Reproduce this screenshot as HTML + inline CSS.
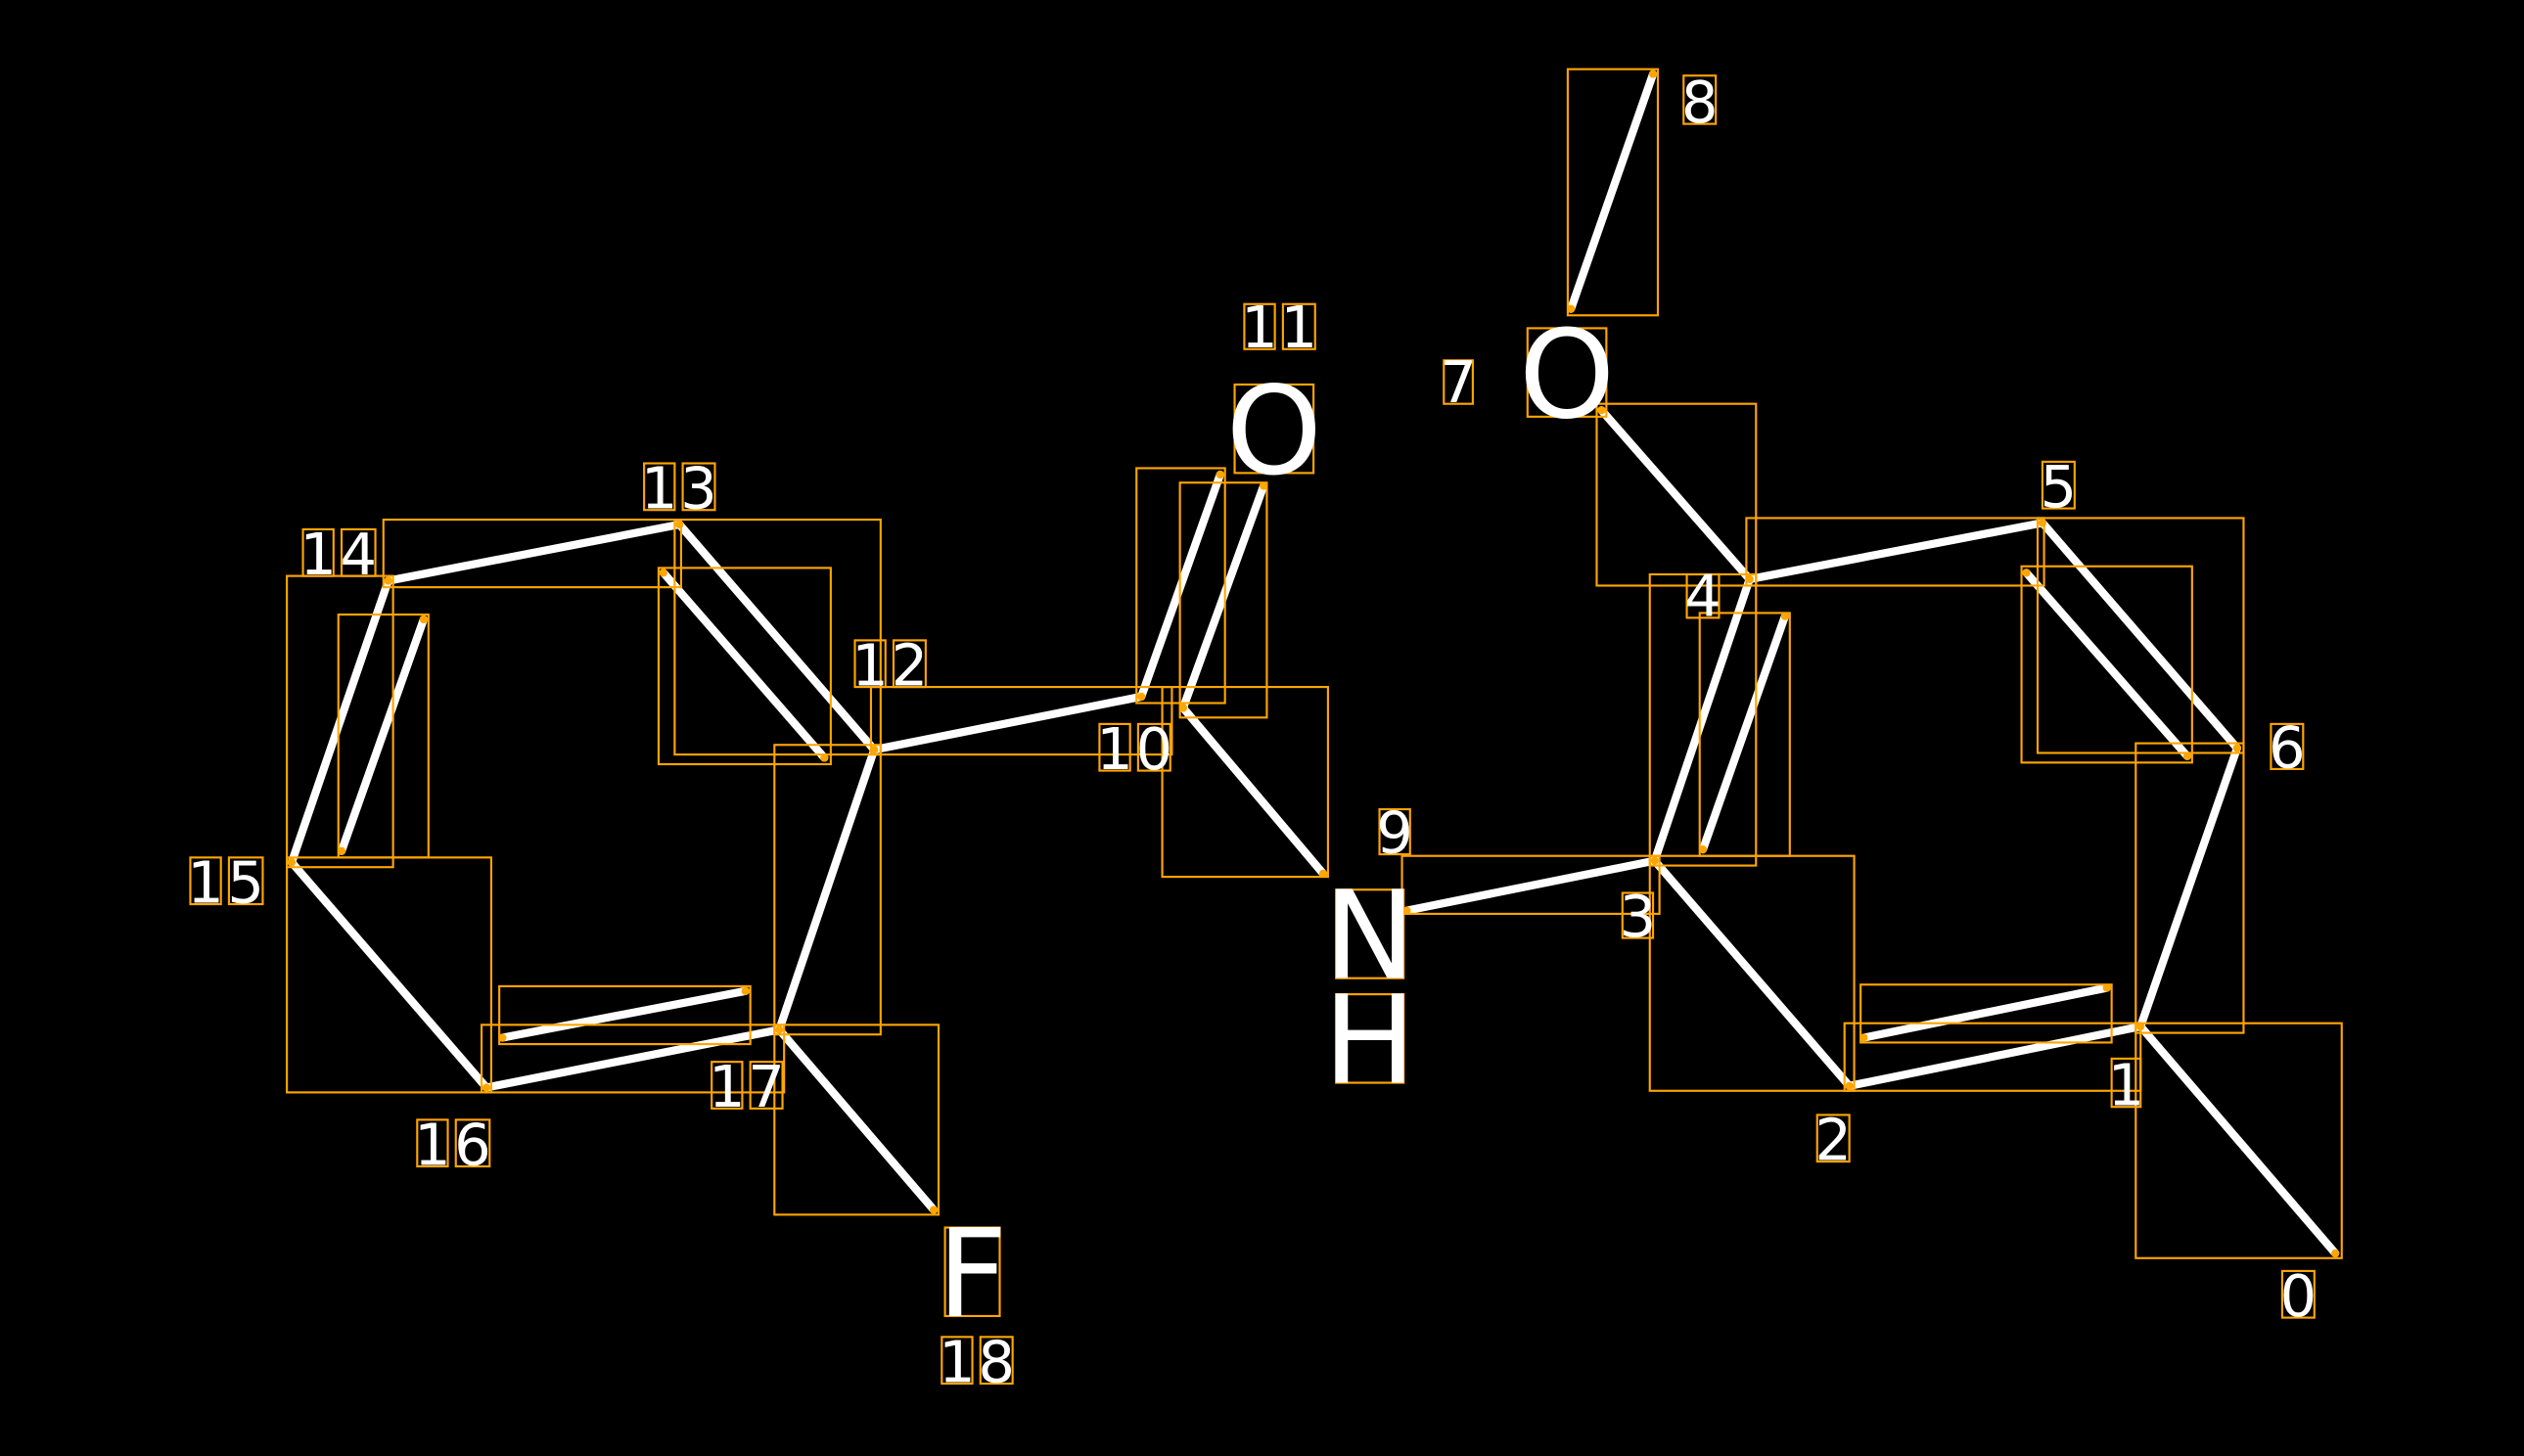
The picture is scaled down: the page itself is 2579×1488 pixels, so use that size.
<!DOCTYPE html>
<html><head><meta charset="utf-8"><style>
html,body{margin:0;padding:0;background:#000;}
svg{display:block;}
</style></head><body>
<svg width="2579" height="1488" viewBox="0 0 1568 905" xmlns="http://www.w3.org/2000/svg">
<rect width="1568" height="905" fill="#000"/>
<g stroke="#fff" stroke-width="5" stroke-linecap="round">
<line x1="976" y1="192" x2="1027" y2="46"/>
<line x1="995" y1="255" x2="1087" y2="360"/>
<line x1="1087" y1="360" x2="1269" y2="325"/>
<line x1="1269" y1="325" x2="1390" y2="465"/>
<line x1="1259" y1="356" x2="1359" y2="470"/>
<line x1="1390" y1="465" x2="1330" y2="638"/>
<line x1="1330" y1="638" x2="1451" y2="779"/>
<line x1="1330" y1="638" x2="1149" y2="675"/>
<line x1="1309" y1="614" x2="1158" y2="645"/>
<line x1="1149" y1="675" x2="1028" y2="535"/>
<line x1="1028" y1="535" x2="1087" y2="360"/>
<line x1="1058" y1="528" x2="1109" y2="383"/>
<line x1="1028" y1="535" x2="874" y2="566"/>
<line x1="735" y1="440" x2="822" y2="543"/>
<line x1="709" y1="433" x2="758" y2="295"/>
<line x1="735" y1="440" x2="785" y2="302"/>
<line x1="709" y1="433" x2="543" y2="466"/>
<line x1="543" y1="466" x2="422" y2="326"/>
<line x1="412" y1="356" x2="512" y2="471"/>
<line x1="422" y1="326" x2="241" y2="361"/>
<line x1="241" y1="361" x2="181" y2="536"/>
<line x1="212" y1="529" x2="263" y2="385"/>
<line x1="181" y1="536" x2="302" y2="676"/>
<line x1="302" y1="676" x2="484" y2="640"/>
<line x1="312" y1="645" x2="463" y2="616"/>
<line x1="484" y1="640" x2="543" y2="466"/>
<line x1="484" y1="640" x2="580" y2="752"/>
</g>
<g fill="none" stroke="#FFA500" stroke-width="1.3">
<rect x="974" y="43" width="56" height="153"/>
<rect x="992" y="251" width="99" height="113"/>
<rect x="1085" y="322" width="185" height="42"/>
<rect x="1266" y="322" width="128" height="146"/>
<rect x="1256" y="352" width="106" height="122"/>
<rect x="1327" y="462" width="67" height="180"/>
<rect x="1327" y="636" width="128" height="146"/>
<rect x="1146" y="636" width="184" height="42"/>
<rect x="1156" y="612" width="156" height="36"/>
<rect x="1025" y="532" width="127" height="146"/>
<rect x="1025" y="357" width="66" height="181"/>
<rect x="1056" y="381" width="56" height="151"/>
<rect x="871" y="532" width="160" height="36"/>
<rect x="722" y="427" width="103" height="118"/>
<rect x="706" y="291" width="55" height="146"/>
<rect x="733" y="300" width="54" height="146"/>
<rect x="541" y="427" width="187" height="42"/>
<rect x="419" y="323" width="128" height="146"/>
<rect x="409" y="353" width="107" height="122"/>
<rect x="238" y="323" width="185" height="42"/>
<rect x="178" y="358" width="66" height="181"/>
<rect x="210" y="382" width="56" height="151"/>
<rect x="178" y="533" width="127" height="146"/>
<rect x="299" y="637" width="188" height="42"/>
<rect x="310" y="613" width="156" height="36"/>
<rect x="481" y="463" width="66" height="180"/>
<rect x="481" y="637" width="102" height="118"/>
</g>
<g fill="#FFA500">
<circle cx="976" cy="192" r="2.5"/><circle cx="1027" cy="46" r="2.5"/>
<circle cx="995" cy="255" r="2.5"/><circle cx="1087" cy="360" r="2.5"/>
<circle cx="1269" cy="325" r="2.5"/><circle cx="1390" cy="465" r="2.5"/>
<circle cx="1259" cy="356" r="2.5"/><circle cx="1359" cy="470" r="2.5"/>
<circle cx="1330" cy="638" r="2.5"/><circle cx="1451" cy="779" r="2.5"/>
<circle cx="1149" cy="675" r="2.5"/><circle cx="1309" cy="614" r="2.5"/><circle cx="1158" cy="645" r="2.5"/>
<circle cx="1028" cy="535" r="2.5"/><circle cx="1058" cy="528" r="2.5"/><circle cx="1109" cy="383" r="2.5"/>
<circle cx="874" cy="566" r="2.5"/><circle cx="735" cy="440" r="2.5"/><circle cx="822" cy="543" r="2.5"/>
<circle cx="709" cy="433" r="2.5"/><circle cx="758" cy="295" r="2.5"/><circle cx="785" cy="302" r="2.5"/>
<circle cx="543" cy="466" r="2.5"/><circle cx="422" cy="326" r="2.5"/><circle cx="412" cy="356" r="2.5"/><circle cx="512" cy="471" r="2.5"/>
<circle cx="241" cy="361" r="2.5"/><circle cx="181" cy="536" r="2.5"/><circle cx="212" cy="529" r="2.5"/><circle cx="263" cy="385" r="2.5"/>
<circle cx="302" cy="676" r="2.5"/><circle cx="484" cy="640" r="2.5"/><circle cx="312" cy="645" r="2.5"/><circle cx="463" cy="616" r="2.5"/><circle cx="580" cy="752" r="2.5"/>
</g>
<g fill="none" stroke="#FFA500" stroke-width="1.3">
<rect x="767" y="239" width="49" height="55"/>
<rect x="949" y="204" width="49" height="55"/>
<rect x="830" y="553" width="42" height="55"/>
<rect x="830" y="618" width="42" height="55"/>
<rect x="587" y="763" width="34" height="55"/>
<rect x="1046" y="47" width="20" height="30"/>
<rect x="897" y="224" width="18" height="27"/>
<rect x="773" y="189" width="19" height="28"/><rect x="797" y="189" width="20" height="28"/>
<rect x="1269" y="287" width="20" height="29"/>
<rect x="1411" y="450" width="20" height="28"/>
<rect x="1048" y="357" width="20" height="27"/>
<rect x="1008" y="555" width="19" height="28"/>
<rect x="857" y="503" width="19" height="28"/>
<rect x="1129" y="693" width="20" height="29"/>
<rect x="1312" y="658" width="18" height="30"/>
<rect x="1418" y="790" width="20" height="29"/>
<rect x="683" y="450" width="19" height="29"/><rect x="707" y="450" width="20" height="29"/>
<rect x="531" y="398" width="19" height="29"/><rect x="555" y="398" width="20" height="29"/>
<rect x="400" y="288" width="19" height="29"/><rect x="424" y="288" width="20" height="29"/>
<rect x="188" y="329" width="19" height="29"/><rect x="212" y="329" width="21" height="29"/>
<rect x="118" y="533" width="19" height="29"/><rect x="142" y="533" width="21" height="29"/>
<rect x="259" y="696" width="19" height="29"/><rect x="283" y="696" width="21" height="29"/>
<rect x="442" y="660" width="19" height="29"/><rect x="466" y="660" width="20" height="29"/>
<rect x="585" y="831" width="19" height="29"/><rect x="609" y="831" width="20" height="29"/>
</g>
<g fill="#fff" font-family="DejaVu Sans, Liberation Sans, sans-serif" text-anchor="middle">
<g font-size="76">
<text x="791.5" y="294">O</text>
<text x="973.5" y="259">O</text>
<text x="851" y="608">N</text>
<text x="851" y="673">H</text>
<text x="604" y="818">F</text>
</g>
<g font-size="36">
<text x="1056" y="76">8</text>
<text x="906" y="250">7</text>
<text x="782.5" y="216">1</text><text x="807" y="216">1</text>
<text x="1279" y="315">5</text>
<text x="1421" y="477">6</text>
<text x="1058" y="383">4</text>
<text x="1017.5" y="582">3</text>
<text x="866.5" y="530">9</text>
<text x="1139" y="721">2</text>
<text x="1321" y="687">1</text>
<text x="1428" y="818">0</text>
<text x="692.5" y="478">1</text><text x="717" y="478">0</text>
<text x="540.5" y="426">1</text><text x="565" y="426">2</text>
<text x="409.5" y="316">1</text><text x="434" y="316">3</text>
<text x="197.5" y="357">1</text><text x="222.5" y="357">4</text>
<text x="127.5" y="561">1</text><text x="152.5" y="561">5</text>
<text x="268.5" y="724">1</text><text x="293.5" y="724">6</text>
<text x="451.5" y="688">1</text><text x="476" y="688">7</text>
<text x="594.5" y="859">1</text><text x="619" y="859">8</text>
</g>
</g>
</svg>
</body></html>
